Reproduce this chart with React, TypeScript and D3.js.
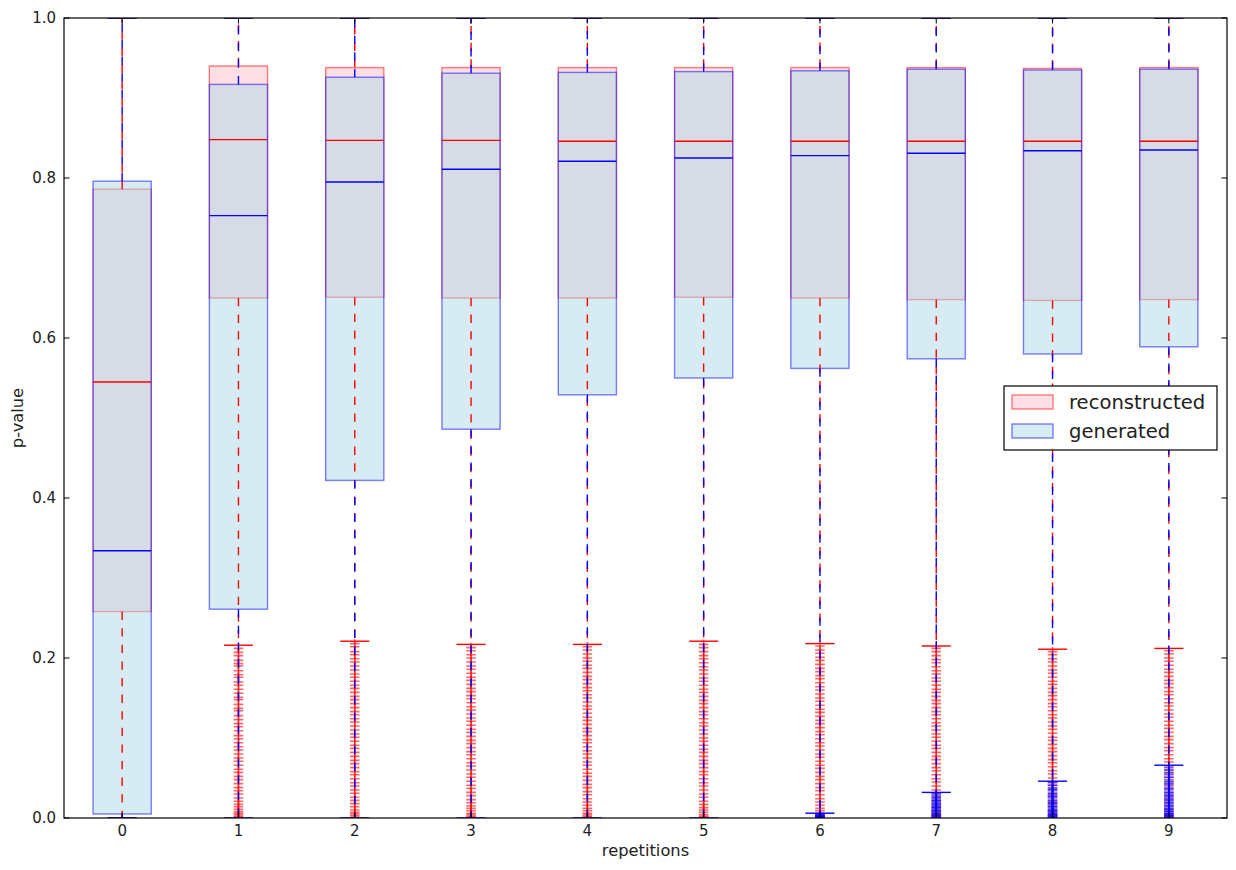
import React from 'react';
import * as d3 from 'd3';

const categories = ['0', '1', '2', '3', '4', '5', '6', '7', '8', '9'];

// reconstructed series (box stats)
const recQ1 = [0.258, 0.65, 0.651, 0.65, 0.65, 0.651, 0.65, 0.648, 0.647, 0.648];
const recMedian = [0.545, 0.848, 0.847, 0.847, 0.846, 0.846, 0.846, 0.846, 0.846, 0.846];
const recQ3 = [0.786, 0.94, 0.938, 0.938, 0.938, 0.938, 0.938, 0.938, 0.937, 0.938];
const recLow = [0.0, 0.216, 0.221, 0.217, 0.217, 0.221, 0.218, 0.215, 0.211, 0.212];
const recHigh = [1, 1, 1, 1, 1, 1, 1, 1, 1, 1];

// generated series (box stats)
const genQ1 = [0.005, 0.261, 0.422, 0.486, 0.529, 0.55, 0.562, 0.574, 0.58, 0.589];
const genMedian = [0.334, 0.753, 0.795, 0.811, 0.821, 0.825, 0.828, 0.831, 0.834, 0.835];
const genQ3 = [0.796, 0.917, 0.926, 0.931, 0.932, 0.933, 0.934, 0.936, 0.935, 0.936];
const genLow = [0, 0, 0, 0, 0, 0, 0.006, 0.032, 0.046, 0.066];
const genHigh = [1, 1, 1, 1, 1, 1, 1, 1, 1, 1];

// outliers
const recFliers: number[][] = [
  [],
  [0.212, 0.207, 0.203, 0.197, 0.193, 0.19, 0.184, 0.179, 0.176, 0.17, 0.166, 0.161, 0.156, 0.151, 0.148, 0.142, 0.137, 0.134, 0.128, 0.123, 0.118, 0.114, 0.109, 0.103, 0.099, 0.094, 0.089, 0.085, 0.08, 0.075, 0.071, 0.066, 0.061, 0.057, 0.052, 0.048, 0.043, 0.038, 0.034, 0.03, 0.025, 0.021, 0.017, 0.014, 0.011, 0.008, 0.006, 0.004, 0.002, 0.001],
  [0.218, 0.214, 0.208, 0.204, 0.199, 0.195, 0.19, 0.185, 0.18, 0.176, 0.171, 0.166, 0.162, 0.157, 0.152, 0.148, 0.143, 0.138, 0.133, 0.129, 0.124, 0.12, 0.115, 0.11, 0.105, 0.101, 0.096, 0.091, 0.087, 0.082, 0.077, 0.072, 0.068, 0.063, 0.058, 0.054, 0.049, 0.044, 0.04, 0.035, 0.031, 0.026, 0.022, 0.018, 0.014, 0.01, 0.007, 0.005, 0.003, 0.001],
  [0.213, 0.209, 0.204, 0.2, 0.195, 0.19, 0.186, 0.181, 0.176, 0.172, 0.167, 0.162, 0.158, 0.153, 0.149, 0.144, 0.139, 0.135, 0.13, 0.125, 0.121, 0.116, 0.111, 0.107, 0.102, 0.097, 0.093, 0.088, 0.083, 0.079, 0.074, 0.069, 0.065, 0.06, 0.055, 0.051, 0.046, 0.041, 0.037, 0.032, 0.028, 0.023, 0.019, 0.015, 0.012, 0.009, 0.006, 0.004, 0.002, 0.001],
  [0.214, 0.21, 0.205, 0.2, 0.196, 0.191, 0.187, 0.182, 0.177, 0.173, 0.168, 0.163, 0.159, 0.154, 0.15, 0.145, 0.14, 0.136, 0.131, 0.126, 0.122, 0.117, 0.112, 0.108, 0.103, 0.098, 0.094, 0.089, 0.084, 0.08, 0.075, 0.07, 0.066, 0.061, 0.056, 0.052, 0.047, 0.042, 0.038, 0.033, 0.029, 0.024, 0.02, 0.016, 0.012, 0.009, 0.006, 0.004, 0.002, 0.001],
  [0.217, 0.213, 0.208, 0.203, 0.199, 0.194, 0.189, 0.185, 0.18, 0.175, 0.171, 0.166, 0.161, 0.157, 0.152, 0.147, 0.143, 0.138, 0.133, 0.129, 0.124, 0.119, 0.115, 0.11, 0.105, 0.1, 0.096, 0.091, 0.086, 0.082, 0.077, 0.072, 0.068, 0.063, 0.058, 0.054, 0.049, 0.044, 0.04, 0.035, 0.03, 0.026, 0.021, 0.017, 0.013, 0.01, 0.007, 0.004, 0.002, 0.001],
  [0.215, 0.21, 0.206, 0.201, 0.197, 0.192, 0.187, 0.183, 0.178, 0.174, 0.169, 0.164, 0.16, 0.155, 0.15, 0.146, 0.141, 0.136, 0.132, 0.127, 0.122, 0.118, 0.113, 0.108, 0.104, 0.099, 0.094, 0.09, 0.085, 0.08, 0.076, 0.071, 0.066, 0.062, 0.057, 0.052, 0.048, 0.043, 0.038, 0.034, 0.029, 0.024, 0.02, 0.016, 0.012, 0.009, 0.006, 0.004, 0.002, 0.001],
  [0.212, 0.208, 0.203, 0.198, 0.194, 0.189, 0.184, 0.18, 0.175, 0.171, 0.166, 0.161, 0.157, 0.152, 0.147, 0.143, 0.138, 0.133, 0.129, 0.124, 0.119, 0.115, 0.11, 0.105, 0.101, 0.096, 0.091, 0.087, 0.082, 0.077, 0.073, 0.068, 0.063, 0.059, 0.054, 0.049, 0.045, 0.04, 0.035, 0.031, 0.026, 0.022, 0.018, 0.014, 0.01, 0.007, 0.005, 0.003, 0.001],
  [0.208, 0.204, 0.199, 0.195, 0.19, 0.185, 0.181, 0.176, 0.171, 0.167, 0.162, 0.157, 0.153, 0.148, 0.143, 0.139, 0.134, 0.129, 0.125, 0.12, 0.115, 0.111, 0.106, 0.101, 0.097, 0.092, 0.087, 0.083, 0.078, 0.073, 0.069, 0.064, 0.059, 0.055, 0.05, 0.045, 0.041, 0.036, 0.031, 0.027, 0.022, 0.018, 0.014, 0.01, 0.007, 0.004, 0.002],
  [0.209, 0.205, 0.2, 0.196, 0.191, 0.186, 0.182, 0.177, 0.172, 0.168, 0.163, 0.158, 0.154, 0.149, 0.144, 0.14, 0.135, 0.13, 0.126, 0.121, 0.116, 0.112, 0.107, 0.102, 0.098, 0.093, 0.088, 0.084, 0.079, 0.074, 0.07, 0.065, 0.06, 0.056, 0.051, 0.046, 0.042, 0.037, 0.032, 0.028, 0.023, 0.019, 0.015, 0.011, 0.008, 0.005, 0.003, 0.001],
];
const genFliers: number[][] = [
  [], [], [], [], [], [],
  [0.005, 0.004, 0.003, 0.0025, 0.002, 0.0015, 0.001, 0.0005, 0.0],
  [0.03, 0.028, 0.026, 0.024, 0.022, 0.021, 0.019, 0.017, 0.016, 0.014, 0.013, 0.012, 0.01, 0.009, 0.008, 0.006, 0.005, 0.004, 0.003, 0.002, 0.001, 0.0],
  [0.044, 0.041, 0.038, 0.036, 0.034, 0.031, 0.029, 0.027, 0.025, 0.022, 0.02, 0.019, 0.017, 0.015, 0.014, 0.012, 0.01, 0.009, 0.008, 0.006, 0.005, 0.004, 0.003, 0.002, 0.001, 0.0],
  [0.063, 0.06, 0.057, 0.054, 0.051, 0.048, 0.045, 0.043, 0.04, 0.037, 0.035, 0.032, 0.03, 0.028, 0.026, 0.024, 0.022, 0.02, 0.018, 0.016, 0.014, 0.012, 0.011, 0.009, 0.008, 0.006, 0.005, 0.004, 0.003, 0.002, 0.001, 0.0],
];

const yTicks = [0, 0.2, 0.4, 0.6, 0.8, 1.0];

const W = 1236;
const H = 870;
const left = 64, right = 1227, top = 18, bottom = 818;
const font = 'DejaVu Sans, sans-serif';

const x = d3.scaleLinear().domain([-0.5, 9.5]).range([left, right]);
const y = d3.scaleLinear().domain([0, 1]).range([bottom, top]);
const boxW = x(0.25) - x(0);
const capW = x(0.125) - x(0);
const mk = 4.8; // half size of the '+' flier marker

interface Series {
  q1: number[]; med: number[]; q3: number[]; lo: number[]; hi: number[]; fliers: number[][];
  fill: string; edge: string; line: string; median: string;
}

const rec: Series = {
  q1: recQ1, med: recMedian, q3: recQ3, lo: recLow, hi: recHigh, fliers: recFliers,
  fill: 'rgba(255,192,203,0.5)', edge: 'rgba(255,0,0,0.5)', line: '#ff0000', median: '#ff0000',
};
const gen: Series = {
  q1: genQ1, med: genMedian, q3: genQ3, lo: genLow, hi: genHigh, fliers: genFliers,
  fill: 'rgba(173,216,230,0.5)', edge: 'rgba(0,0,255,0.5)', line: '#0000ff', median: '#0000ff',
};

const Boxes = ({ s }: { s: Series }) => (
  <g>
    {categories.map((c, i) => (
      <rect key={c} x={x(i) - boxW} y={y(s.q3[i])} width={boxW * 2} height={y(s.q1[i]) - y(s.q3[i])}
        fill={s.fill} stroke={s.edge} strokeWidth={1.4} />
    ))}
  </g>
);

const Lines = ({ s }: { s: Series }) => (
  <g>
    {categories.map((c, i) => (
      <g key={c}>
        {s.fliers[i].map((v, k) => (
          <path key={k} d={`M${x(i) - mk},${y(v)}H${x(i) + mk}M${x(i)},${y(v) - mk}V${y(v) + mk}`}
            stroke={s.line} strokeOpacity={0.6} strokeWidth={1.6} fill="none" />
        ))}
        <line x1={x(i)} x2={x(i)} y1={y(s.q3[i])} y2={y(s.hi[i])} stroke={s.line} strokeWidth={1.4} strokeDasharray="8.3,8.3" />
        <line x1={x(i)} x2={x(i)} y1={y(s.q1[i])} y2={y(s.lo[i])} stroke={s.line} strokeWidth={1.4} strokeDasharray="8.3,8.3" />
        <line x1={x(i) - capW} x2={x(i) + capW} y1={y(s.hi[i])} y2={y(s.hi[i])} stroke={s.line} strokeWidth={1.4} />
        <line x1={x(i) - capW} x2={x(i) + capW} y1={y(s.lo[i])} y2={y(s.lo[i])} stroke={s.line} strokeWidth={1.4} />
        <line x1={x(i) - boxW} x2={x(i) + boxW} y1={y(s.med[i])} y2={y(s.med[i])} stroke={s.median} strokeWidth={1.4} />
      </g>
    ))}
  </g>
);

export default function App() {
  return (
    <svg width={W} height={H} style={{ position: 'absolute', left: 0, top: 0, background: '#fff' }}>
      <defs>
        <clipPath id="plot">
          <rect x={left} y={top} width={right - left} height={bottom - top} />
        </clipPath>
      </defs>
      <rect x={0} y={0} width={W} height={H} fill="#fff" />
      <g clipPath="url(#plot)">
        <Boxes s={rec} />
        <Boxes s={gen} />
        <Lines s={rec} />
        <Lines s={gen} />
      </g>
      {/* ticks */}
      {yTicks.map(t => (
        <g key={t}>
          <line x1={left} x2={left + 5.5} y1={y(t)} y2={y(t)} stroke="#000" />
          <line x1={right} x2={right - 5.5} y1={y(t)} y2={y(t)} stroke="#000" />
          <text x={left - 8} y={y(t)} dy="0.36em" textAnchor="end" fontFamily={font} fontSize={15} fill="#222">
            {d3.format('.1f')(t)}
          </text>
        </g>
      ))}
      {categories.map((c, i) => (
        <g key={c}>
          <line x1={x(i)} x2={x(i)} y1={bottom} y2={bottom - 5.5} stroke="#000" />
          <line x1={x(i)} x2={x(i)} y1={top} y2={top + 5.5} stroke="#000" />
          <text x={x(i)} y={836} textAnchor="middle" fontFamily={font} fontSize={15} fill="#222">{c}</text>
        </g>
      ))}
      <rect x={left} y={top} width={right - left} height={bottom - top} fill="none" stroke="#000" strokeWidth={1.2} />
      <text x={(left + right) / 2} y={856} textAnchor="middle" fontFamily={font} fontSize={16.3} fill="#222">repetitions</text>
      <text transform={`translate(23,${(top + bottom) / 2}) rotate(-90)`} textAnchor="middle" fontFamily={font} fontSize={16.3} fill="#222">p-value</text>
      {/* legend */}
      <g>
        <rect x={1004} y={386} width={213} height={64} fill="#fff" stroke="#000" strokeWidth={1.2} />
        <rect x={1012} y={395} width={41} height={14} fill={rec.fill} stroke={rec.edge} strokeWidth={1.4} />
        <rect x={1012} y={424} width={41} height={14} fill={gen.fill} stroke={gen.edge} strokeWidth={1.4} />
        <text x={1069} y={409} fontFamily={font} fontSize={19.6} fill="#222">reconstructed</text>
        <text x={1069} y={438} fontFamily={font} fontSize={19.6} fill="#222">generated</text>
      </g>
    </svg>
  );
}
